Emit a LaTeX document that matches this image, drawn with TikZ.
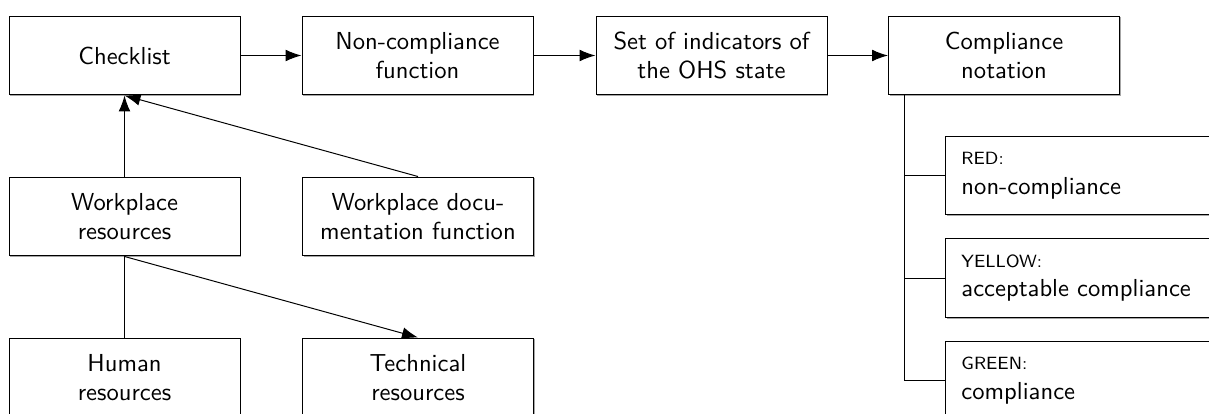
\documentclass[tikz,border=0pt]{standalone}
\usepackage{tikz}
\usetikzlibrary{arrows.meta, shadows}

\tikzset{
  block/.style={draw, fill=white, align=center, font=\sffamily,
    minimum width=93.9pt, minimum height=32.1pt, inner sep=2pt,
    general shadow={fill=black!35, shadow xshift=0.45pt, shadow yshift=-0.45pt}},
  level/.style={block, align=left, anchor=west, text width=103pt, inner xsep=6.5pt},
}
\newcommand{\lvlname}[1]{{\fontsize{7.2}{8}\selectfont #1}}

\begin{document}
\begin{tikzpicture}[x=0.4065pt, y=-0.4065pt, >={Latex[length=6.5pt,width=4.8pt]}]
    \useasboundingbox (0,0) rectangle (1209,414);
    \clip (0,0) rectangle (1209,414);
    % top row
    \node[block] (checklist) at (124.5,55.5) {Checklist};
    \node[block] (noncomp) at (417.5,55.5) {Non-compliance\\function};
    \node[block] (indicators) at (711.5,55.5) {Set of indicators of\\the OHS state};
    \node[block] (notation) at (1004,55.5) {Compliance\\notation};
    % resources
    \node[block] (wpres) at (124.5,216.5) {Workplace\\resources};
    \node[block] (wpdoc) at (418,216.5) {Workplace docu-\\mentation function};
    \node[block] (human) at (124.5,377.5) {Human\\resources};
    \node[block] (tech) at (418,377.5) {Technical\\resources};
    % compliance levels
    \node[level] (red) at (945,175.5) {\lvlname{RED:}\\non-compliance};
    \node[level] (yellow) at (945,278) {\lvlname{YELLOW:}\\acceptable compliance};
    \node[level] (green) at (945,380.5) {\lvlname{GREEN:}\\compliance};

    \draw[->] (checklist) -- (noncomp);
    \draw[->] (noncomp) -- (indicators);
    \draw[->] (indicators) -- (notation);
    \draw[->] (wpres.north) -- (checklist.south);
    \draw[->] (wpdoc.north) -- (checklist.south);
    \draw (wpres.south) -- (human.north);
    \draw[->] (wpres.south) -- (tech.north);
    \coordinate (bus) at ([xshift=6.5pt]notation.south west);
    \draw (bus) |- (red.west);
    \draw (bus) |- (yellow.west);
    \draw (bus) |- (green.west);
\end{tikzpicture}
\end{document}
